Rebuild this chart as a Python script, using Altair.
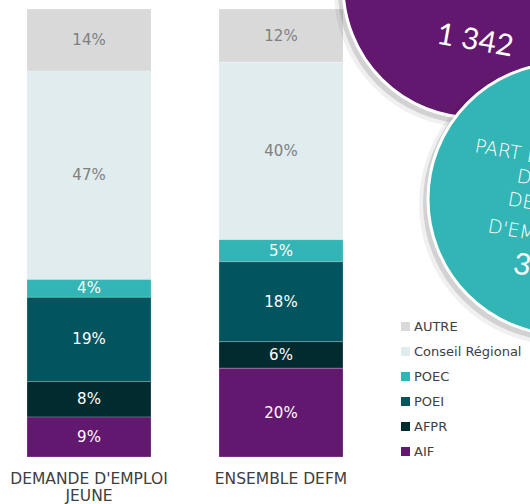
import altair as alt
import pandas as pd

# ---- data -------------------------------------------------------------
categories = ["DEMANDE D'EMPLOI JEUNE", "ENSEMBLE DEFM"]
types = ["AUTRE", "Conseil Régional", "POEC", "POEI", "AFPR", "AIF"]
jeune_values = [14, 47, 4, 19, 8, 9]
defm_values = [12, 40, 5, 18, 6, 20]
colors = ["#d9d9d9", "#e0ecee", "#33b5b5", "#02545f", "#022b30", "#62186f"]

purple_top_text = "JEUNE"
purple_value = "1 342"
teal_lines = ["PART DES JEUNES", "DANS LA", "DEMANDE", "D'EMPLOI"]
teal_value = "32 %"

rows = []
for cat, vals in zip(categories, [jeune_values, defm_values]):
    for i, (t, v) in enumerate(zip(types, vals)):
        rows.append({"categorie": cat, "type": t, "value": v,
                     "rank": len(types) - i})
df = pd.DataFrame(rows)
one = pd.DataFrame({"k": [0]})

FONT = "DejaVu Sans"

base = alt.Chart(df).transform_stack(
    stack="value", groupby=["categorie"], as_=["y0", "y1"],
    offset="normalize", sort=[alt.SortField("rank", order="ascending")]
)

x_enc = alt.X(
    "categorie:N", sort=categories, title=None,
    scale=alt.Scale(paddingInner=0.354, paddingOuter=0.1406),
    axis=alt.Axis(labelAngle=0, domain=False, ticks=False, labelFont=FONT,
                  labelFontSize=15.5, labelColor="#404040", labelPadding=14,
                  labelBaseline="top", labelLineHeight=17, labelLimit=400,
                  labelExpr="datum.label == \"DEMANDE D'EMPLOI JEUNE\" ? [\"DEMANDE D'EMPLOI\", \"JEUNE\"] : datum.label"),
)

bars = base.mark_bar(stroke="white", strokeWidth=0.6, strokeOpacity=0.35).encode(
    x=x_enc,
    y=alt.Y("y0:Q", scale=alt.Scale(domain=[0, 1]), axis=None),
    y2="y1:Q",
    color=alt.Color(
        "type:N", scale=alt.Scale(domain=types, range=colors),
        legend=alt.Legend(title=None, orient="none", legendX=399, legendY=311,
                          symbolType="square", symbolSize=81, symbolStrokeWidth=0,
                          labelFont=FONT, labelFontSize=13, labelColor="#404040",
                          rowPadding=11, padding=0, labelOffset=2),
    ),
)

labels = base.transform_calculate(
    mid="(datum.y0 + datum.y1) / 2", label="datum.value + '%'"
).mark_text(font=FONT, fontSize=15, baseline="middle").encode(
    x=alt.X("categorie:N", sort=categories),
    y=alt.Y("mid:Q", scale=alt.Scale(domain=[0, 1])),
    text="label:N",
    color=alt.condition(
        "datum.type == 'AUTRE' || datum.type == 'Conseil Régional'",
        alt.value("#7f7f7f"), alt.value("white")),
)


def bubble(cx, cy, d, fill):
    sh1 = alt.Chart(one).mark_circle(size=(d + 10) ** 2, color="black", opacity=0.06).encode(
        x=alt.value(cx - 4), y=alt.value(cy + 5))
    sh2 = alt.Chart(one).mark_circle(size=(d + 4) ** 2, color="black", opacity=0.12).encode(
        x=alt.value(cx - 3), y=alt.value(cy + 4))
    c = alt.Chart(one).mark_circle(size=d ** 2, color=fill, opacity=1,
                                   stroke="white", strokeWidth=3).encode(
        x=alt.value(cx), y=alt.value(cy))
    return [sh1, sh2, c]


def txt(s, x, y, size, align="left", baseline="alphabetic", font="DejaVu Sans", weight=200):
    return alt.Chart(one).mark_text(
        text=s, font=font, fontSize=size, fontWeight=weight, color="white", angle=10,
        align=align, baseline=baseline).encode(x=alt.value(x), y=alt.value(y))


layers = [bars, labels]
layers += bubble(475, -23, 264, "#62186f")
layers += [txt(purple_top_text, 518, -9, 18, align="right"),
           txt(purple_value, 475, 32, 30, align="center", baseline="middle", font="Lato", weight=400)]
layers += bubble(564, 190, 272, "#33b5b5")
teal_pos = [(474, 143), (516, 173), (507, 196), (487, 223)]
for s, (x, y) in zip(teal_lines, teal_pos):
    layers.append(txt(s, x, y, 19))
layers.append(txt(teal_value, 512, 264, 30, font="Lato", weight=400))

chart = alt.layer(*layers).properties(
    width=370, height=448,
    autosize=alt.AutoSizeParams(type="none"),
    padding={"left": 0, "top": 9, "right": 160, "bottom": 47},
).configure_view(stroke=None)

chart.save("out.html", embed_options={"renderer": "svg", "actions": False})
